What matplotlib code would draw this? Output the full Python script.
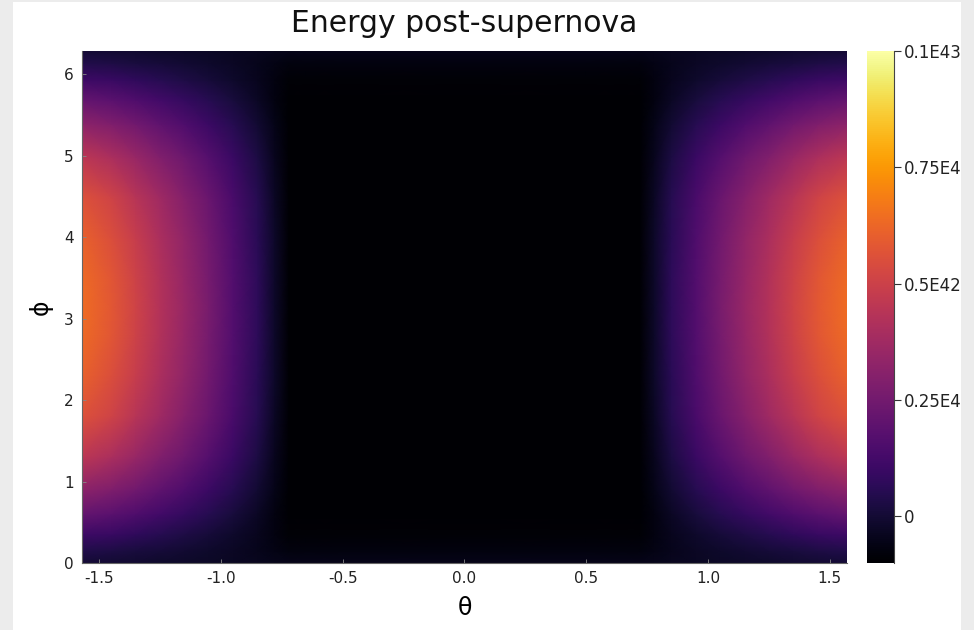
import numpy as np
import matplotlib
matplotlib.use("Agg")
import matplotlib.pyplot as plt
from matplotlib.patches import Rectangle
from matplotlib.lines import Line2D

plt.rcParams['font.family'] = ['DejaVu Sans']

# Grid nodes for the half domain (theta >= 0, phi <= pi); field is mirror-symmetric
theta_half = [0.0, 0.5, 0.65, 0.72, 0.78, 0.85, 0.95, 1.05, 1.15, 1.25, 1.35, 1.45, np.pi / 2]
phi_half = [0.0, 0.15, 0.35, 0.6, 0.9, 1.3, 1.8, 2.3, 2.8, np.pi]

# Energy in units of 1e41 (rows: phi_half, columns: theta_half)
energy_half = [
    [-0.50, -0.50, -0.50, -0.50, -0.45, -0.39, -0.32, -0.26, -0.20, -0.15, -0.09, -0.04, 0.00],
    [-0.70, -0.70, -0.70, -0.70, -0.58, -0.45, -0.30, -0.16, -0.03, 0.08, 0.20, 0.31, 0.40],
    [-0.90, -0.90, -0.90, -0.90, -0.68, -0.44, -0.18, 0.08, 0.31, 0.52, 0.74, 0.94, 1.10],
    [-1.00, -1.00, -1.00, -1.00, -0.66, -0.29, 0.12, 0.52, 0.88, 1.20, 1.54, 1.85, 2.10],
    [-1.00, -1.00, -1.00, -1.00, -0.54, -0.03, 0.51, 1.06, 1.54, 1.98, 2.44, 2.86, 3.20],
    [-1.00, -1.00, -1.00, -1.00, -0.40, 0.27, 0.98, 1.70, 2.33, 2.91, 3.51, 4.06, 4.50],
    [-1.00, -1.00, -1.00, -1.00, -0.27, 0.52, 1.38, 2.23, 2.99, 3.69, 4.41, 5.07, 5.60],
    [-1.00, -1.00, -1.00, -1.00, -0.22, 0.63, 1.56, 2.48, 3.30, 4.04, 4.82, 5.53, 6.10],
    [-1.00, -1.00, -1.00, -1.00, -0.19, 0.69, 1.65, 2.60, 3.45, 4.22, 5.03, 5.76, 6.35],
    [-1.00, -1.00, -1.00, -1.00, -0.19, 0.70, 1.66, 2.63, 3.48, 4.25, 5.07, 5.81, 6.40],
]

vmin, vmax = -1.0e41, 1.0e42
cbar_ticks = [0.0, 0.25e42, 0.5e42, 0.75e42, 1.0e42]
cbar_labels = ["0", "0.25E42", "0.5E42", "0.75E42", "0.1E43"]
x_ticks = [-1.5, -1.0, -0.5, 0.0, 0.5, 1.0, 1.5]
y_ticks = [0, 1, 2, 3, 4, 5, 6]

# Assemble the full grid by mirroring in theta and phi
th = np.asarray(theta_half)
ph = np.asarray(phi_half)
E = np.asarray(energy_half) * 1e41
theta = np.concatenate([-th[::-1], th[1:]])
phi = np.concatenate([ph, 2 * np.pi - ph[-2::-1]])
E_th = np.concatenate([E[:, ::-1], E[:, 1:]], axis=1)
E_full = np.concatenate([E_th, E_th[-2::-1, :]], axis=0)

W, H = 974, 630
fig = plt.figure(figsize=(W / 100, H / 100), dpi=100, facecolor="white")

ax = fig.add_axes([82 / W, (H - 563) / H, 765 / W, 512 / H])
T, P = np.meshgrid(theta, phi)
mesh = ax.pcolormesh(T, P, E_full, cmap="inferno", vmin=vmin, vmax=vmax,
                     shading="gouraud", rasterized=True)
ax.set_xlim(-np.pi / 2, np.pi / 2)
ax.set_ylim(0, 2 * np.pi)
ax.set_xticks(x_ticks)
ax.set_xticklabels([f"{v:.1f}" for v in x_ticks])
ax.set_yticks(y_ticks)
ax.tick_params(direction="in", length=3, width=0.6, color="#888888",
               labelsize=11, labelcolor="#222222", pad=6)
for s in ("top", "right"):
    ax.spines[s].set_visible(False)
for s in ("left", "bottom"):
    ax.spines[s].set_color("#666666")
    ax.spines[s].set_linewidth(0.8)

ax.set_title("Energy post-supernova", fontsize=21.5, pad=14, color="#111111")
ax.set_xlabel("θ", fontsize=17, labelpad=7)
ax.set_ylabel("ϕ", fontsize=17, labelpad=8)

cax = fig.add_axes([867 / W, (H - 563) / H, 27 / W, 512 / H])
cb = fig.colorbar(mesh, cax=cax)
cb.outline.set_visible(False)
cb.set_ticks(cbar_ticks)
cb.set_ticklabels(cbar_labels)
cax.tick_params(direction="out", length=5, width=0.8, color="#333333",
                labelsize=12, labelcolor="#222222", pad=2)
cax.add_line(Line2D([1, 1], [0, 1], transform=cax.transAxes, color="#444444",
                    lw=0.8, clip_on=False))

# Light gray margins around the white canvas
gray = "#ececec"
for (x0, y0, w, h) in [(0, 0, 13, H), (961, 0, W - 961, H), (0, H - 2, W, 2)]:
    fig.add_artist(Rectangle((x0 / W, y0 / H), w / W, h / H, transform=fig.transFigure,
                             facecolor=gray, edgecolor="none", zorder=10))

fig.savefig("out.png", dpi=100, facecolor="white")
